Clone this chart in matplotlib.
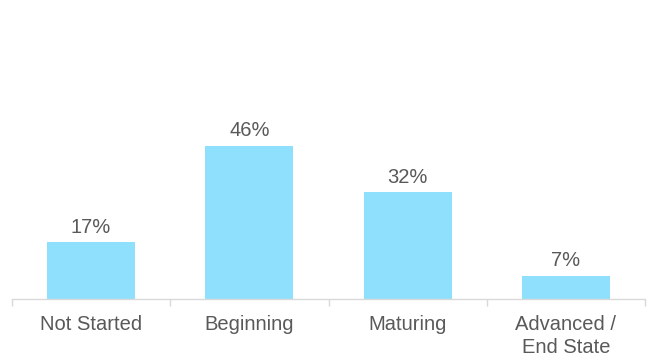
import numpy as np
import matplotlib.pyplot as plt

plt.rcParams['font.family'] = ['Liberation Sans', 'DejaVu Sans']

stages = ["Not Started", "Beginning", "Maturing", "Advanced /\nEnd State"]
shares = [17, 46, 32, 7]

bar_color = "#8ee0fd"
text_color = "#595959"
axis_color = "#d9d9d9"

fig = plt.figure(figsize=(6.48, 3.6), dpi=100)
ax = fig.add_axes([12 / 648, 1 - 299 / 360, 633 / 648, 166.5 / 360])

x = np.arange(len(stages))
bars = ax.bar(x, shares, width=0.556, color=bar_color, zorder=2)

for rect, val in zip(bars, shares):
    ax.annotate(f"{val}%", (rect.get_x() + rect.get_width() / 2, rect.get_height()),
                xytext=(0, 4), textcoords="offset points", ha="center", va="bottom",
                fontsize=14.5, color=text_color, annotation_clip=False)

ax.set_xlim(-0.5, len(stages) - 0.5)
ax.set_ylim(0, 50)

# category labels centred, tick marks on category boundaries
ax.set_xticks(x)
ax.set_xticklabels(stages, fontsize=14.5, color=text_color, linespacing=1.25)
ax.tick_params(axis="x", which="major", length=0, pad=11.5)
ax.set_xticks(np.arange(-0.5, len(stages)), minor=True)
ax.tick_params(axis="x", which="minor", length=5, color=axis_color, width=1)

ax.set_yticks([])
for side in ["top", "right", "left"]:
    ax.spines[side].set_visible(False)
ax.spines["bottom"].set_color(axis_color)
ax.spines["bottom"].set_linewidth(1)

fig.savefig("out.png", dpi=100)
